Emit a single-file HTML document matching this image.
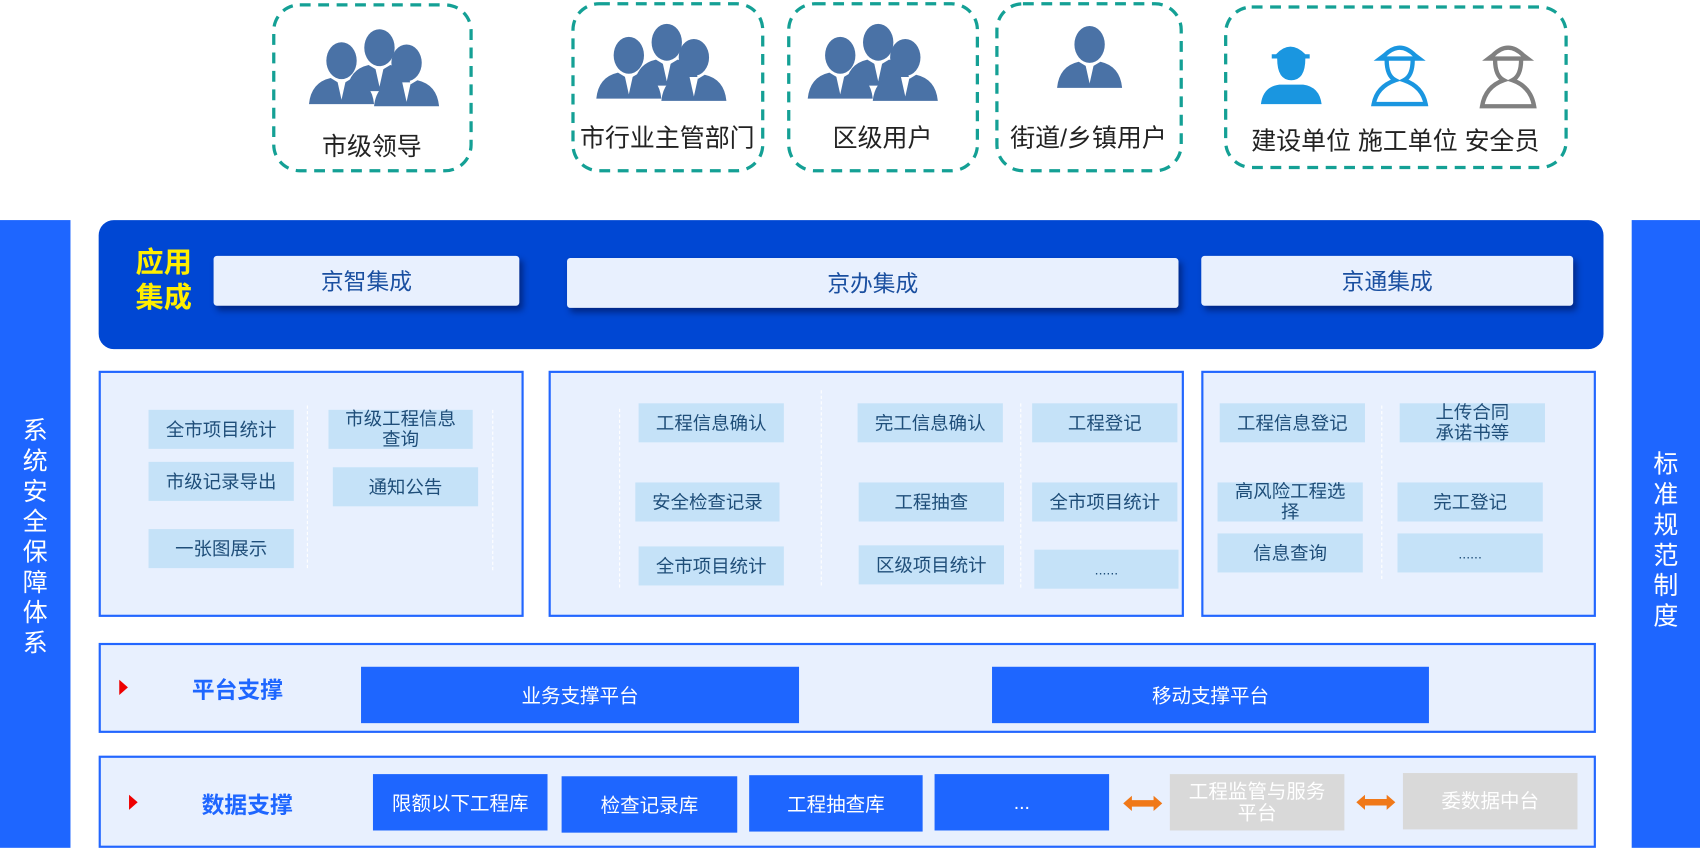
<!DOCTYPE html>
<html><head><meta charset="utf-8"><style>
*{margin:0;padding:0;box-sizing:border-box}
html,body{width:1700px;height:858px;overflow:hidden;background:#fff}
#w{position:absolute;left:0;top:0;width:1568px;height:792px;transform:scale(1.08418);transform-origin:0 0;font-family:"Liberation Sans","Noto Sans CJK SC",sans-serif}
.a{position:absolute}
.ul{position:absolute;font-size:23px;color:#222;text-align:center;white-space:nowrap}
.bar{position:absolute;background:#1e66ff;color:#fff;font-size:23px;text-align:center;line-height:28px}
.app{position:absolute;background:#e8f0fe;color:#1a4fa0;font-size:21px;text-align:center;border-radius:3px;box-shadow:3px 4px 6px rgba(0,0,40,.45);display:flex;align-items:center;justify-content:center}
.panel{position:absolute;background:#e8f0fe;border:2px solid #2266ff}
.c{position:absolute;background:#c5e2f8;color:#1f4e79;font-size:17px;text-align:center;display:flex;align-items:center;justify-content:center;line-height:19px}
.bb{position:absolute;background:#1e66ff;color:#fff;font-size:18px;display:flex;align-items:center;justify-content:center}
.gb{position:absolute;background:#d9d9d9;color:#fff;font-size:18px;display:flex;align-items:center;justify-content:center;text-align:center;line-height:20px}
.vl{position:absolute;border-left:1px dashed #fff;width:0}
.tri{position:absolute;width:0;height:0;border-top:7px solid transparent;border-bottom:7px solid transparent;border-left:8px solid #e00}
.lbl{position:absolute;font-size:21px;font-weight:bold;color:#1e66ff}
</style></head><body><div id="w">
<svg class="a" style="left:0;top:0" width="1568" height="170"><defs>
<g id="p"><ellipse cx="0" cy="-14" rx="14" ry="17" fill="#4a72a6"/><path d="M-30 26 Q-28 6 -10 2 L0 8 L10 2 Q28 6 30 26 Z" fill="#4a72a6"/><path d="M-4 4 L0 22 L4 4 Z" fill="#fff"/></g>
</defs>
<g fill="none" stroke="#14a095" stroke-width="3" stroke-dasharray="10 7">
<rect x="252.5" y="4.5" width="182" height="153" rx="24"/>
<rect x="528.5" y="3.5" width="175" height="154" rx="24"/>
<rect x="727.5" y="3.5" width="174" height="154" rx="24"/>
<rect x="919.5" y="3.5" width="170" height="154" rx="24"/>
<rect x="1130.5" y="6.5" width="314" height="148" rx="24"/>
</g>
<use href="#p" x="315" y="70"/><use href="#p" x="350" y="58"/><use href="#p" x="375" y="72"/>
<use href="#p" x="580" y="65"/><use href="#p" x="615" y="53"/><use href="#p" x="640" y="67"/>
<use href="#p" x="775" y="65"/><use href="#p" x="810" y="53"/><use href="#p" x="835" y="67"/>
<use href="#p" x="1005" y="55"/>
</svg>
<div class="ul" style="left:251px;width:184px;top:116px">市级领导</div>
<div class="ul" style="left:527px;width:177px;top:108px">市行业主管部门</div>
<div class="ul" style="left:726px;width:176px;top:108px">区级用户</div>
<div class="ul" style="left:918px;width:172px;top:108px">街道/乡镇用户</div>
<svg class="a" style="left:1160px;top:38px" width="280" height="70">
<path d="M17 12 Q30 -2 44 12 L48 12 L48 16 L13 16 L13 12 Z M18 16 Q18 36 31 36 Q44 36 44 16 Z M3 58 Q5 42 20 40 L42 40 Q57 42 59 58 Z" fill="#1a96e0"/>
<g fill="none" stroke="#1a96e0" stroke-width="4"><path d="M117 13 Q131 -1 145 13 L149 16 L113 16 Z"/><path d="M119 17 Q119 32 127 36 Q110 42 107 58 L155 58 Q152 42 135 36 Q143 32 143 17"/></g>
<g fill="none" stroke="#808080" stroke-width="4"><path d="M217 13 Q231 -1 245 13 L249 16 L213 16 Z"/><path d="M219 17 Q219 32 227 36 Q210 42 207 60 L255 60 Q252 42 235 36 Q243 32 243 17"/></g>
</svg>
<div class="ul" style="left:1129px;width:316px;top:111px">建设单位 施工单位 安全员</div>

<div class="bar" style="left:0;top:203px;width:65px;height:579px;padding-top:180px">系<br>统<br>安<br>全<br>保<br>障<br>体<br>系</div>
<div class="bar" style="left:1505px;top:203px;width:63px;height:579px;padding-top:211px">标<br>准<br>规<br>范<br>制<br>度</div>

<div class="a" style="left:91px;top:203px;width:1388px;height:119px;background:#0047d3;border-radius:14px"></div>
<div class="a" style="left:125px;top:226px;font-size:26px;font-weight:bold;color:#ffee00;line-height:32px">应用<br>集成</div>
<div class="app" style="left:197px;top:236px;width:282px;height:46px">京智集成</div>
<div class="app" style="left:523px;top:238px;width:564px;height:46px">京办集成</div>
<div class="app" style="left:1108px;top:236px;width:343px;height:46px">京通集成</div>

<div class="panel" style="left:91px;top:342px;width:392px;height:227px"></div>
<div class="vl" style="left:283px;top:374px;height:150px"></div>
<div class="vl" style="left:454px;top:378px;height:148px"></div>
<div class="c" style="left:137px;top:378px;width:134px;height:36px">全市项目统计</div>
<div class="c" style="left:303px;top:378px;width:133px;height:36px">市级工程信息<br>查询</div>
<div class="c" style="left:137px;top:426px;width:134px;height:36px">市级记录导出</div>
<div class="c" style="left:307px;top:431px;width:134px;height:36px">通知公告</div>
<div class="c" style="left:137px;top:488px;width:134px;height:36px">一张图展示</div>

<div class="panel" style="left:506px;top:342px;width:586px;height:227px"></div>
<div class="vl" style="left:571px;top:377px;height:165px"></div>
<div class="vl" style="left:757px;top:360px;height:180px"></div>
<div class="vl" style="left:941px;top:372px;height:170px"></div>
<div class="c" style="left:589px;top:372px;width:134px;height:36px">工程信息确认</div>
<div class="c" style="left:791px;top:372px;width:134px;height:36px">完工信息确认</div>
<div class="c" style="left:952px;top:372px;width:134px;height:36px">工程登记</div>
<div class="c" style="left:586px;top:445px;width:133px;height:36px">安全检查记录</div>
<div class="c" style="left:792px;top:445px;width:134px;height:36px">工程抽查</div>
<div class="c" style="left:952px;top:445px;width:134px;height:36px">全市项目统计</div>
<div class="c" style="left:589px;top:504px;width:134px;height:36px">全市项目统计</div>
<div class="c" style="left:792px;top:503px;width:134px;height:36px">区级项目统计</div>
<div class="c" style="left:954px;top:507px;width:133px;height:36px;font-size:13px">......</div>

<div class="panel" style="left:1108px;top:342px;width:364px;height:227px"></div>
<div class="vl" style="left:1274px;top:374px;height:160px"></div>
<div class="c" style="left:1125px;top:372px;width:134px;height:36px">工程信息登记</div>
<div class="c" style="left:1291px;top:372px;width:134px;height:36px">上传合同<br>承诺书等</div>
<div class="c" style="left:1123px;top:445px;width:134px;height:36px">高风险工程选<br>择</div>
<div class="c" style="left:1289px;top:445px;width:134px;height:36px">完工登记</div>
<div class="c" style="left:1123px;top:492px;width:134px;height:36px">信息查询</div>
<div class="c" style="left:1289px;top:492px;width:134px;height:36px;font-size:13px">......</div>

<div class="panel" style="left:91px;top:593px;width:1381px;height:83px"></div>
<div class="tri" style="left:110px;top:627px"></div>
<div class="lbl" style="left:177px;top:621px">平台支撑</div>
<div class="bb" style="left:333px;top:615px;width:404px;height:52px">业务支撑平台</div>
<div class="bb" style="left:915px;top:615px;width:403px;height:52px">移动支撑平台</div>

<div class="panel" style="left:91px;top:697px;width:1381px;height:85px"></div>
<div class="tri" style="left:119px;top:733px"></div>
<div class="lbl" style="left:186px;top:727px">数据支撑</div>
<div class="bb" style="left:344px;top:714px;width:161px;height:52px">限额以下工程库</div>
<div class="bb" style="left:518px;top:716px;width:162px;height:52px">检查记录库</div>
<div class="bb" style="left:691px;top:715px;width:160px;height:52px">工程抽查库</div>
<div class="bb" style="left:862px;top:714px;width:161px;height:52px">...</div>
<svg class="a" style="left:1034px;top:732px" width="40" height="18"><path d="M2 9 L10 2 L10 6 L30 6 L30 2 L38 9 L30 16 L30 12 L10 12 L10 16 Z" fill="#f07818"/></svg>
<div class="gb" style="left:1079px;top:714px;width:161px;height:52px">工程监管与服务<br>平台</div>
<svg class="a" style="left:1249px;top:731px" width="40" height="18"><path d="M2 9 L10 2 L10 6 L30 6 L30 2 L38 9 L30 16 L30 12 L10 12 L10 16 Z" fill="#f07818"/></svg>
<div class="gb" style="left:1294px;top:713px;width:161px;height:52px">委数据中台</div>
</div></body></html>
